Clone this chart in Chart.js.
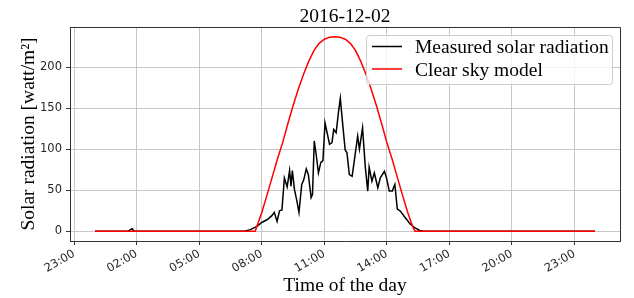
<!DOCTYPE html>
<html>
<head>
<meta charset="utf-8">
<script src="https://cdn.jsdelivr.net/npm/chart.js@4.4.1/dist/chart.umd.min.js"></script>
<style>
  html, body { margin: 0; padding: 0; background: #fff; }
  canvas { display: block; }
</style>
</head>
<body>
<canvas id="solar-chart" width="634" height="298"></canvas>
<script>
const chartTitle = "2016-12-02";
const seriesNames = ["Measured solar radiation", "Clear sky model"];
const seriesColors = ["#000000", "#ff0000"];

// measured radiation (watt/m2)
const measuredTimes = [
  "00:00", "01:35", "01:42", "01:47", "01:52", "07:10", "07:27", "07:46", "08:01", "08:15",
  "08:29", "08:36", "08:44", "08:51", "08:58", "09:05", "09:13", "09:20", "09:24", "09:28",
  "09:34", "09:41", "09:47", "09:55", "10:01", "10:08", "10:14", "10:22", "10:26", "10:31",
  "10:37", "10:43", "10:50", "10:56", "11:02", "11:07", "11:15", "11:22", "11:27", "11:34",
  "11:41", "11:46", "11:53", "12:00", "12:05", "12:12", "12:20", "12:25", "12:36", "12:41",
  "12:50", "12:58", "13:05", "13:09", "13:17", "13:24", "13:34", "13:41", "13:53", "13:59",
  "14:07", "14:16", "14:19", "14:23", "14:30", "14:38", "14:52", "15:07", "15:21", "15:35",
  "15:45", "23:59"
];
const measuredValues = [
  0, 0, 2, 3, 0, 0, 2, 6, 11, 14,
  19, 23, 12, 25, 26, 65, 54, 74, 55, 74,
  51, 37, 23, 57, 63, 76, 69, 41, 45, 110,
  92, 71, 84, 86, 132, 122, 106, 108, 124, 120,
  146, 162, 130, 99, 96, 69, 67, 82, 116, 100,
  126, 78, 49, 78, 61, 71, 53, 65, 73, 65,
  49, 49, 53, 57, 27, 25, 17, 9, 4, 1,
  0, 0
];

// clear sky model
const clearSkyTimes = [
  "00:00", "07:41", "07:45", "08:00", "08:15", "08:30", "08:45", "09:00", "09:15", "09:30",
  "09:45", "10:00", "10:15", "10:30", "10:45", "11:00", "11:15", "11:30", "11:45", "12:00",
  "12:15", "12:30", "12:45", "13:00", "13:15", "13:30", "13:45", "14:00", "14:15", "14:30",
  "14:45", "15:00", "15:15", "15:21", "23:59"
];
const clearSkyValues = [
  0, 0, 5, 23, 44, 66, 88, 108, 131, 153,
  173, 191, 207, 220, 229, 234, 236.5, 237, 236.5, 234,
  229, 220, 207, 191, 173, 153, 131, 108, 88, 66,
  44, 23, 5, 0, 0
];

const xTickMinutes = [-60, 120, 300, 480, 660, 840, 1020, 1200, 1380];
const yTickValues = [0, 50, 100, 150, 200];

const serif = "'Liberation Serif', 'Times New Roman', serif";
const sans = "'DejaVu Sans', sans-serif";

function toMinutes(s) {
  const [h, m] = s.split(":").map(Number);
  return h * 60 + m;
}

function clockLabel(mins) {
  const m = ((mins % 1440) + 1440) % 1440;
  const h = Math.floor(m / 60);
  const mm = m % 60;
  return String(h).padStart(2, "0") + ":" + String(mm).padStart(2, "0");
}

const measuredPoints = measuredTimes.map((t, i) => ({ x: toMinutes(t), y: measuredValues[i] }));
const clearSkyPoints = clearSkyTimes.map((t, i) => ({ x: toMinutes(t), y: clearSkyValues[i] }));

// title, top/right spines and the legend box
const extras = {
  id: "extras",
  afterDraw(chart) {
    const ctx = chart.ctx;
    const area = chart.chartArea;
    ctx.save();

    ctx.strokeStyle = "#333";
    ctx.lineWidth = 1;
    ctx.beginPath();
    ctx.moveTo(area.left, area.top + 0.5);
    ctx.lineTo(area.right + 0.5, area.top + 0.5);
    ctx.lineTo(area.right + 0.5, area.bottom);
    ctx.stroke();

    ctx.fillStyle = "#000";
    ctx.font = "19.5px " + serif;
    ctx.textAlign = "center";
    ctx.textBaseline = "alphabetic";
    ctx.fillText(chartTitle, (area.left + area.right) / 2, 22);

    // legend
    const lx = 366, ly = 35, lw = 246, lh = 49;
    ctx.beginPath();
    ctx.roundRect(lx + 0.5, ly + 0.5, lw, lh, 3);
    ctx.fillStyle = "rgba(255,255,255,0.8)";
    ctx.fill();
    ctx.strokeStyle = "#cccccc";
    ctx.stroke();

    ctx.textAlign = "left";
    chart.data.datasets.forEach((ds, i) => {
      const y = 46.5 + i * 22.5;
      ctx.strokeStyle = ds.borderColor;
      ctx.lineWidth = 1.5;
      ctx.beginPath();
      ctx.moveTo(372, y);
      ctx.lineTo(402, y);
      ctx.stroke();
      ctx.fillStyle = "#000";
      ctx.fillText(ds.label, 415, y + 6.5);
    });
    ctx.restore();
  }
};

new Chart(document.getElementById("solar-chart"), {
  type: "line",
  data: {
    datasets: [
      {
        label: seriesNames[0],
        data: measuredPoints,
        borderColor: seriesColors[0],
        borderWidth: 1.5,
        pointRadius: 0,
        tension: 0,
        order: 1
      },
      {
        label: seriesNames[1],
        data: clearSkyPoints,
        borderColor: seriesColors[1],
        borderWidth: 1.5,
        pointRadius: 0,
        tension: 0,
        order: 0
      }
    ]
  },
  options: {
    responsive: false,
    animation: false,
    devicePixelRatio: 1,
    layout: { padding: { left: 0, right: 14, top: 27, bottom: 0 } },
    plugins: {
      legend: { display: false },
      tooltip: { enabled: false },
      title: { display: false }
    },
    scales: {
      x: {
        type: "linear",
        min: -72,
        max: 1511,
        afterBuildTicks: (scale) => { scale.ticks = xTickMinutes.map(v => ({ value: v })); },
        afterFit: (scale) => { scale.height = 57; },
        ticks: {
          autoSkip: false,
          minRotation: 30,
          maxRotation: 30,
          padding: 2,
          color: "#262626",
          font: { family: sans, size: 11.5 },
          callback: (v) => clockLabel(v)
        },
        grid: { color: "#c8c8c8", lineWidth: 1, tickColor: "#333", tickLength: 4 },
        border: { display: true, color: "#333", width: 1 },
        title: {
          display: true,
          text: "Time of the day",
          color: "#000",
          font: { family: serif, size: 19.5 },
          padding: { top: 0, bottom: 0 }
        }
      },
      y: {
        min: -11.85,
        max: 248.85,
        afterBuildTicks: (scale) => { scale.ticks = yTickValues.map(v => ({ value: v })); },
        afterFit: (scale) => { scale.width = 70; },
        ticks: {
          padding: 4,
          color: "#262626",
          font: { family: sans, size: 11.5 }
        },
        grid: { color: "#c8c8c8", lineWidth: 1, tickColor: "#333", tickLength: 4 },
        border: { display: true, color: "#333", width: 1 },
        title: {
          display: true,
          text: "Solar radiation [watt/m²]",
          color: "#000",
          font: { family: serif, size: 19.5 },
          padding: { top: 17, bottom: 0 }
        }
      }
    }
  },
  plugins: [extras]
});
</script>
</body>
</html>
